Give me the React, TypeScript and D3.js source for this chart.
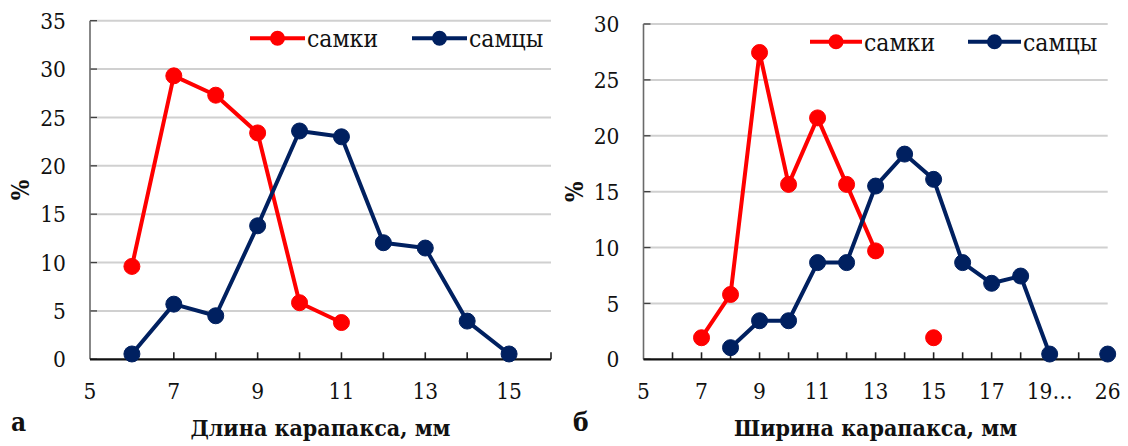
import React from "react";
import * as d3 from "d3";

// ---------- DATA ----------
// Panel a: carapace length (mm)
const lengthCategories = ["5", "6", "7", "8", "9", "10", "11", "12", "13", "14", "15", "16"];
const lengthFemales: (number | null)[] = [null, 9.6, 29.3, 27.3, 23.4, 5.85, 3.8, null, null, null, null, null];
const lengthMales: (number | null)[] = [null, 0.55, 5.7, 4.5, 13.8, 23.6, 23.0, 12.05, 11.5, 3.95, 0.55, null];
const lengthYTicks = [0, 5, 10, 15, 20, 25, 30, 35];

// Panel б: carapace width (mm)
const widthCategories = ["5", "6", "7", "8", "9", "10", "11", "12", "13", "14", "15", "16", "17", "18", "19…", "", "26"];
const widthFemales: (number | null)[] = [null, null, 1.93, 5.8, 27.45, 15.65, 21.6, 15.65, 9.7, null, 1.93, null, null, null, null, null, null];
const widthMales: (number | null)[] = [null, null, null, 1.04, 3.45, 3.45, 8.65, 8.65, 15.5, 18.36, 16.1, 8.65, 6.8, 7.45, 0.47, null, 0.47];
const widthYTicks = [0, 5, 10, 15, 20, 25, 30];

const seriesNames = ["самки", "самцы"];
const RED = "#ff0000";
const NAVY = "#002060";
const FONT = '"DejaVu Serif Condensed", "DejaVu Serif", serif';

type PanelProps = {
  categories: string[];
  females: (number | null)[];
  males: (number | null)[];
  yTicks: number[];
  x0: number;
  x1: number;
  yTop: number;
  yBottom: number;
  title: string;
  letter: string;
  letterX: number;
  legendY: number;
  legendRed: [number, number];
  legendNavy: [number, number];
};

const txt = { fontFamily: FONT, fontStretch: "condensed" as const };

function Panel(p: PanelProps) {
  const n = p.categories.length;
  const x = d3.scaleLinear().domain([0, n - 1]).range([p.x0, p.x1]);
  const yMax = p.yTicks[p.yTicks.length - 1];
  const y = d3.scaleLinear().domain([0, yMax]).range([p.yBottom, p.yTop]);

  const line = d3
    .line<number | null>()
    .defined((d) => d != null)
    .x((_, i) => x(i))
    .y((d) => y(d as number));

  const series = [
    { vals: p.females, color: RED },
    { vals: p.males, color: NAVY },
  ];

  const legends = [
    { name: seriesNames[0], color: RED, pos: p.legendRed },
    { name: seriesNames[1], color: NAVY, pos: p.legendNavy },
  ];

  return (
    <g>
      {p.yTicks.filter((t) => t > 0).map((t) => (
        <line key={"g" + t} x1={p.x0} x2={p.x1} y1={y(t)} y2={y(t)} stroke="#d0d0d0" strokeWidth={2} />
      ))}
      {p.yTicks.map((t) => (
        <line key={"yt" + t} x1={p.x0} x2={p.x0 + 7} y1={y(t)} y2={y(t)} stroke="#404040" strokeWidth={1.3} />
      ))}
      <line x1={p.x0} x2={p.x0} y1={p.yTop} y2={p.yBottom} stroke="#6a6a6a" strokeWidth={1.6} />
      {p.categories.map((_, i) =>
        i > 0 ? (
          <line key={"xt" + i} x1={x(i)} x2={x(i)} y1={p.yBottom - 7} y2={p.yBottom} stroke="#202020" strokeWidth={1.6} />
        ) : null
      )}
      <line x1={p.x0} x2={p.x1} y1={p.yBottom} y2={p.yBottom} stroke="#111" strokeWidth={2.2} />
      {p.yTicks.map((t) => (
        <text key={"yl" + t} style={txt} x={p.x0 - 24} y={y(t)} dy="0.36em" textAnchor="end" fontSize={22.5} fill="#111">
          {t}
        </text>
      ))}
      {p.categories.map((c, i) =>
        i % 2 === 0 ? (
          <text key={"xl" + i} style={txt} x={x(i)} y={399} textAnchor="middle" fontSize={22.5} fill="#111">
            {c}
          </text>
        ) : null
      )}
      {series.map((s, si) => (
        <g key={"s" + si}>
          <path d={line(s.vals) || ""} fill="none" stroke={s.color} strokeWidth={4} strokeLinejoin="round" />
          {s.vals.map((v, i) =>
            v != null ? <circle key={i} cx={x(i)} cy={y(v)} r={8} fill={s.color} stroke={s.color} strokeWidth={1} /> : null
          )}
        </g>
      ))}
      {legends.map((l) => (
        <g key={l.name}>
          <line x1={l.pos[0]} x2={l.pos[1]} y1={p.legendY} y2={p.legendY} stroke={l.color} strokeWidth={4} />
          <circle cx={(l.pos[0] + l.pos[1]) / 2} cy={p.legendY} r={7.5} fill={l.color} />
          <text style={txt} x={l.pos[1] + 2} y={p.legendY + 9} fontSize={24.5} fill="#111">
            {l.name}
          </text>
        </g>
      ))}
      <text
        style={txt}
        transform={`translate(${p.x0 - 61},${(p.yTop + p.yBottom) / 2}) rotate(-90)`}
        textAnchor="middle"
        fontSize={24}
        fontWeight="bold"
        fill="#111"
      >
        %
      </text>
      <text style={txt} x={(p.x0 + p.x1) / 2} y={436} textAnchor="middle" fontSize={23} fontWeight="bold" fill="#111">
        {p.title}
      </text>
      <text style={txt} x={p.letterX} y={431} fontSize={26} fontWeight="bold" fill="#111">
        {p.letter}
      </text>
    </g>
  );
}

export default function App() {
  return (
    <svg
      width={1128}
      height={446}
      style={{ position: "absolute", left: 0, top: 0, background: "#fff" }}
    >
      <rect width={1128} height={446} fill="#fff" />
      <Panel
        categories={lengthCategories}
        females={lengthFemales}
        males={lengthMales}
        yTicks={lengthYTicks}
        x0={90}
        x1={551}
        yTop={20.7}
        yBottom={359.3}
        title="Длина карапакса, мм"
        letter="а"
        letterX={11}
        legendY={38.3}
        legendRed={[250, 305]}
        legendNavy={[412, 467]}
      />
      <Panel
        categories={widthCategories}
        females={widthFemales}
        males={widthMales}
        yTicks={widthYTicks}
        x0={643.5}
        x1={1107.7}
        yTop={24}
        yBottom={359.3}
        title="Ширина карапакса, мм"
        letter="б"
        letterX={573}
        legendY={41.7}
        legendRed={[810, 862]}
        legendNavy={[968, 1021]}
      />
    </svg>
  );
}
